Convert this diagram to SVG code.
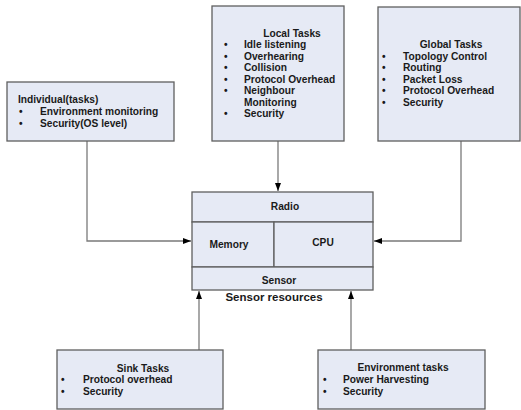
<svg xmlns="http://www.w3.org/2000/svg" width="521" height="410" viewBox="0 0 521 410">
<style>
.box{fill:#e6eaf5;stroke:#5f5f5f;stroke-width:1.3}
.t{font-family:"Liberation Sans",Arial,sans-serif;font-size:10.2px;font-weight:bold;fill:#1a1a1a}
.c{text-anchor:middle}
.big{font-size:11.5px}
.ln{fill:none;stroke:#7a7a7a;stroke-width:1.3}
</style>
<defs>
<marker id="ah" markerWidth="8" markerHeight="6" refX="8" refY="3" orient="auto" markerUnits="userSpaceOnUse">
<path d="M0,0 L8,3 L0,6 Z" fill="#000"/>
</marker>
</defs>
<rect width="521" height="410" fill="#fff"/>
<g id="connectors">
<polyline class="ln" points="87,141 87,241 191,241" marker-end="url(#ah)"/>
<line class="ln" x1="278" y1="141" x2="278" y2="191" marker-end="url(#ah)"/>
<polyline class="ln" points="461,141 461,241 374,241" marker-end="url(#ah)"/>
<line class="ln" x1="199" y1="350" x2="199" y2="291" marker-end="url(#ah)"/>
<line class="ln" x1="351" y1="350" x2="351" y2="291" marker-end="url(#ah)"/>
</g>
<g id="individual">
<rect class="box" x="7" y="82" width="167" height="59"/>
<text class="t" x="18" y="103">Individual(tasks)</text>
<text class="t" x="19" y="115">•</text><text class="t" x="40" y="115">Environment monitoring</text>
<text class="t" x="19" y="127">•</text><text class="t" x="40" y="127">Security(OS level)</text>
</g>
<g id="local">
<rect class="box" x="212" y="6" width="132" height="135"/>
<text class="t c" x="292" y="37">Local Tasks</text>
<text class="t" x="224" y="48">•</text><text class="t" x="244" y="48">Idle listening</text>
<text class="t" x="224" y="60">•</text><text class="t" x="244" y="60">Overhearing</text>
<text class="t" x="224" y="71">•</text><text class="t" x="244" y="71">Collision</text>
<text class="t" x="224" y="83">•</text><text class="t" x="244" y="83">Protocol Overhead</text>
<text class="t" x="224" y="94">•</text><text class="t" x="244" y="94">Neighbour</text>
<text class="t" x="244" y="106">Monitoring</text>
<text class="t" x="224" y="117">•</text><text class="t" x="244" y="117">Security</text>
</g>
<g id="global">
<rect class="box" x="378" y="7" width="142" height="134"/>
<text class="t c" x="451" y="48">Global Tasks</text>
<text class="t" x="382" y="60">•</text><text class="t" x="403" y="60">Topology Control</text>
<text class="t" x="382" y="71">•</text><text class="t" x="403" y="71">Routing</text>
<text class="t" x="382" y="83">•</text><text class="t" x="403" y="83">Packet Loss</text>
<text class="t" x="382" y="94">•</text><text class="t" x="403" y="94">Protocol Overhead</text>
<text class="t" x="382" y="106">•</text><text class="t" x="403" y="106">Security</text>
</g>
<g id="sensor-resources">
<rect class="box" x="192" y="192" width="181" height="30"/>
<rect class="box" x="192" y="222" width="82" height="45"/>
<rect class="box" x="274" y="222" width="99" height="45"/>
<rect class="box" x="192" y="267" width="181" height="23"/>
<text class="t c" x="285" y="210">Radio</text>
<text class="t c" x="229" y="248">Memory</text>
<text class="t c" x="323" y="246">CPU</text>
<text class="t c" x="279" y="284">Sensor</text>
<text class="t c big" x="274" y="301">Sensor resources</text>
</g>
<g id="sink">
<rect class="box" x="57" y="350" width="166" height="59"/>
<text class="t c" x="143" y="372">Sink Tasks</text>
<text class="t" x="61" y="383">•</text><text class="t" x="83" y="383">Protocol overhead</text>
<text class="t" x="61" y="395">•</text><text class="t" x="83" y="395">Security</text>
</g>
<g id="environment">
<rect class="box" x="318" y="350" width="167" height="59"/>
<text class="t c" x="403" y="371">Environment tasks</text>
<text class="t" x="323" y="383">•</text><text class="t" x="343" y="383">Power Harvesting</text>
<text class="t" x="323" y="395">•</text><text class="t" x="343" y="395">Security</text>
</g>
</svg>
